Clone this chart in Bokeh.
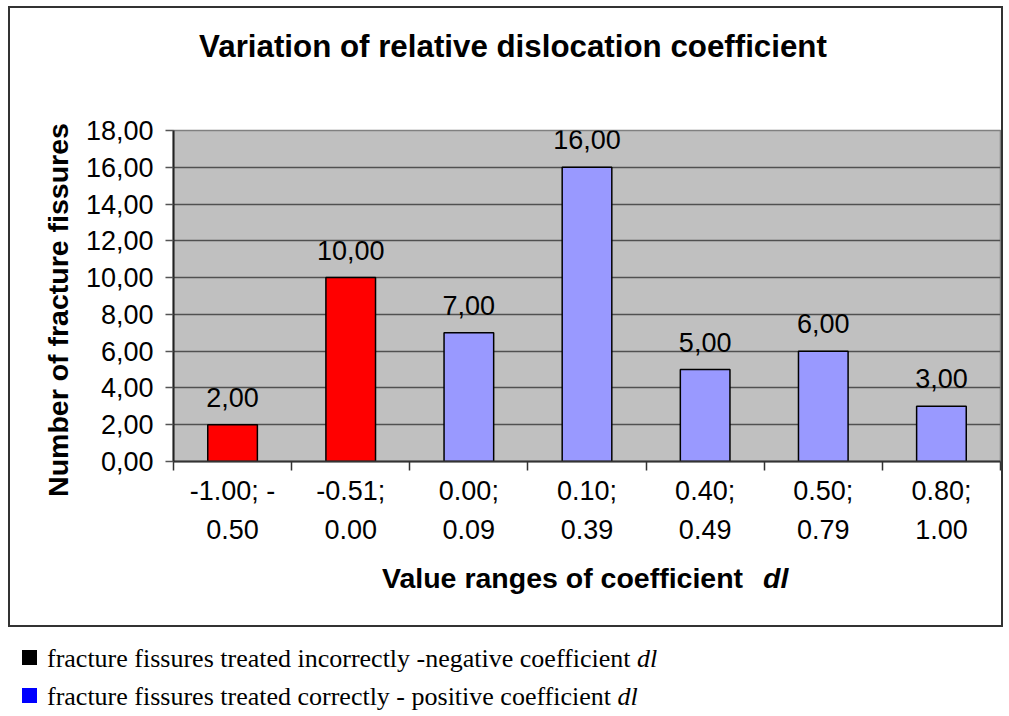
from bokeh.plotting import figure
from bokeh.layouts import column, row
from bokeh.models import (Range1d, FixedTicker, ColumnDataSource, LabelSet, Div, Spacer)
from bokeh.core.properties import value
from bokeh.embed import file_html
from bokeh.resources import INLINE

# ---- data ----
categories = ["-1.00; -0.50", "-0.51; 0.00", "0.00; 0.09", "0.10; 0.39",
              "0.40; 0.49", "0.50; 0.79", "0.80; 1.00"]
counts = [2, 10, 7, 16, 5, 6, 3]
groups = ["negative", "negative", "positive", "positive", "positive", "positive", "positive"]
y_ticks = [0, 2, 4, 6, 8, 10, 12, 14, 16, 18]
title_text = "Variation of relative dislocation coefficient"
y_title = "Number of fracture fissures"
x_title = "Value ranges of coefficient"
x_title_var = "dl"
legend_texts = ["fracture fissures treated incorrectly -negative coefficient",
                "fracture fissures treated correctly - positive coefficient"]

# ---- styles ----
group_colors = {"negative": "#FF0000", "positive": "#9999FF"}
legend_colors = ["#000000", "#0000FF"]
SANS = "Liberation Sans"
SERIF = "Liberation Serif"
BOX = "#333333"
YT_W = 70          # width of the strip holding the y-axis title
PLOT_W, PLOT_H = 991, 480


def wrap(label):
    a, b = label.split("; ")
    if b.startswith("-"):
        return a + "; -\n" + b[1:]
    return a + ";\n" + b


centers = [i + 0.5 for i in range(len(categories))]
bounds = [float(i) for i in range(len(categories) + 1)]

src = ColumnDataSource(dict(
    x=centers,
    top=counts,
    color=[group_colors[g] for g in groups],
    label=[f"{v:.2f}".replace(".", ",") for v in counts],
))

p = figure(width=PLOT_W - YT_W, height=PLOT_H, x_range=Range1d(0, len(categories)),
           y_range=Range1d(0, 18), output_backend="svg", toolbar_location=None,
           min_border_left=163 - YT_W, min_border_right=1, min_border_top=50,
           min_border_bottom=99, background_fill_color="#C0C0C0",
           border_fill_color="white", outline_line_color="#808080",
           outline_line_width=1.5, margin=0)

p.vbar(x="x", top="top", width=0.42, bottom=0, fill_color="color",
       line_color="black", line_width=1.5, source=src)

p.add_layout(LabelSet(x="x", y="top", text="label", source=src, y_offset=18,
                      text_align="center", text_baseline="alphabetic",
                      text_font=value(SANS), text_font_size=value("27px"),
                      text_color="black"))

# x axis
xa = p.xaxis[0]
xa.ticker = FixedTicker(ticks=centers, minor_ticks=bounds)
xa.major_label_overrides = {c: wrap(cat) for c, cat in zip(centers, categories)}
xa.major_tick_line_color = None
xa.minor_tick_in = 0
xa.minor_tick_out = 9
xa.minor_tick_line_color = "#333333"
xa.minor_tick_line_width = 1.5
xa.axis_line_color = "#333333"
xa.axis_line_width = 2
xa.major_label_text_font = SANS
xa.major_label_text_font_size = "27px"
xa.major_label_text_color = "black"
xa.major_label_text_line_height = 1.3
xa.major_label_standoff = 5

# y axis
ya = p.yaxis[0]
ya.ticker = FixedTicker(ticks=y_ticks)
ya.major_label_overrides = {t: f"{t:.2f}".replace(".", ",") for t in y_ticks}
ya.minor_tick_line_color = None
ya.major_tick_in = 0
ya.major_tick_out = 8
ya.major_tick_line_color = "#555555"
ya.major_tick_line_width = 1.5
ya.axis_line_color = "#222222"
ya.axis_line_width = 2
ya.major_label_text_font = SANS
ya.major_label_text_font_size = "27px"
ya.major_label_text_color = "black"
ya.major_label_standoff = 12

p.xgrid.visible = False
p.ygrid.grid_line_color = "#505050"
p.ygrid.grid_line_width = 1.5


def block(w, h, color):
    return Div(width=w, height=h, margin=0, text="",
               styles={"background-color": color})


title_div = Div(width=PLOT_W, height=72, margin=0, text=(
    f'<div style="width:{PLOT_W}px;box-sizing:border-box;padding:21px 0 0 15px;'
    f'text-align:center;font-family:\'{SANS}\';font-weight:bold;font-size:31.3px;'
    f'line-height:36px;color:#000;white-space:nowrap;">{title_text}</div>'))

ytitle_div = Div(width=YT_W, height=PLOT_H, margin=0, text=(
    f'<div style="position:relative;width:{YT_W}px;height:{PLOT_H}px;">'
    f'<div style="position:absolute;left:-182px;top:213px;width:460px;height:34px;'
    f'line-height:34px;text-align:center;transform:rotate(-90deg);'
    f'transform-origin:50% 50%;font-family:\'{SANS}\';font-weight:bold;'
    f'font-size:28.5px;color:#000;white-space:nowrap;">{y_title}</div></div>'))

xtitle_div = Div(width=PLOT_W, height=65, margin=0, text=(
    f'<div style="box-sizing:border-box;padding:1px 0 0 372px;'
    f'font-family:\'{SANS}\';font-weight:bold;font-size:28.5px;line-height:34px;'
    f'color:#000;white-space:nowrap;">{x_title} '
    f'<i style="margin-left:12px;">{x_title_var}</i></div>'))

legend_lines = "".join(
    f'<div style="height:38px;line-height:38px;white-space:nowrap;">'
    f'<span style="display:inline-block;width:15px;height:15px;background:{c};'
    f'vertical-align:2px;margin-right:10px;"></span>{t} <i>dl</i></div>'
    for t, c in zip(legend_texts, legend_colors))
legend_div = Div(width=1009, height=89, margin=0, text=(
    f'<div style="box-sizing:border-box;height:89px;overflow:hidden;'
    f'padding:13px 0 0 22px;font-family:\'{SERIF}\';font-size:26px;color:#000;">'
    f'{legend_lines}</div>'))

inner = column(title_div, row(ytitle_div, p, spacing=0, margin=0), xtitle_div,
               spacing=0, margin=0)
box = column(block(995, 2, BOX),
             row(block(2, 617, BOX), inner, block(2, 617, BOX), spacing=0, margin=0),
             block(995, 2, BOX), spacing=0, margin=0)

layout = column(Spacer(width=1003, height=6, margin=0),
                row(Spacer(width=8, height=621, margin=0), box, spacing=0, margin=0),
                legend_div, spacing=0, margin=0)

open("out.html", "w").write(file_html(layout, INLINE))
